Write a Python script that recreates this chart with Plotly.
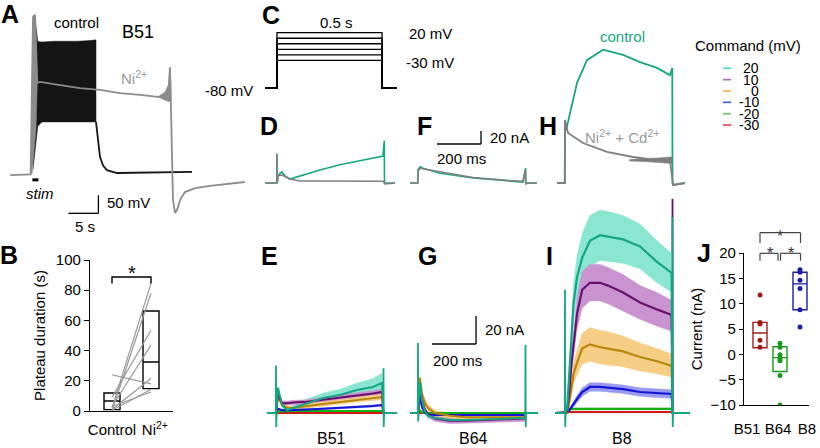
import plotly.graph_objects as go

W, H = 820, 448
FONT = "Liberation Sans, Arial, sans-serif"

# ---------------- A: B51 plateau (time in s, potential in mV) ----------------
a_ctrl_t = [0.5, 0.8, 1.3, 2, 4, 6, 8, 10, 11]
a_ctrl_hi = [379, 375, 305, 304, 306, 305, 306, 308, 310]
a_ctrl_lo = [-50, 4, 70, 82, 82, 82, 83, 82, 82]
a_tail_t = [11.0, 11.4, 11.67, 12.2, 12.83, 14.5, 20, 27]
a_tail_v = [82, 20, -16, -40, -52, -60, -59, -57]
a_ni_t = [-3.3, 0.1, 0.5, 0.85, 1.2, 1.67, 5, 8.33, 11.67, 15, 18.33, 21.67,
          23.0, 23.33, 23.5, 23.83, 24.17, 24.5, 25, 25.83, 27.5, 30, 35.8]
a_ni_v = [-66, -64, 373, 379, 190, 193, 184, 176, 171, 162, 157, 151,
          151, 234, 115, -135, -171, -163, -135, -113, -102, -96, -85]
a_burst_t = [0.12, 0.55, 0.85, 1.22, 1.0, 0.35]
a_burst_v = [-62, 373, 379, 190, 60, -62]
a_osc_t = [21.5, 22.5, 23.2, 23.5]
a_osc_hi = [154, 165, 190, 195]
a_osc_lo = [150, 142, 138, 143]
a_stim = [0.4, 1.4]

# ---------------- B: plateau duration (s) ----------------
b_ctrl = [2, 0, 9, 3, 1, 24, 0.5, 3]
b_ni = [84.5, 78, 53.5, 43.6, 21.5, 18, 14.2, 12.6]
b_q1 = [0.9, 14.8]
b_med = [6.6, 32.5]
b_q3 = [11.9, 66.2]
b_labels = ["Control", "Ni<sup>2+</sup>"]

# ---------------- C: voltage command (ms, mV) ----------------
c_levels = [20, 10, 0, -10, -20, -30]
c_hold = -80
c_t = [-57, 0, 0, 500, 500, 571]

# ---------------- D, F, H: single example currents (ms, nA) ----------------
d_green_t = [-56, -1, 0, 1, 5, 14, 23, 37, 60, 107, 200, 293, 386, 493, 499, 500, 503, 549]
d_green_i = [0, 0, 45, 0, 10, 15, 17, 11, 6, 11, 20, 28, 34, 41.5, 65, -1.5, 0, 0]
d_gray_t = [-56, -1, 0, 1, 5, 23, 60, 107, 200, 300, 400, 493, 500, 503, 549]
d_gray_i = [0, 0, 45, 0, 12, 12.3, 6.2, 3.1, 3, 2.8, 2.8, 2.8, 0, -1.5, 0]

f_t = [-37, -1, 0, 5, 10, 20, 102, 256, 414, 488, 500, 501, 504, 553]
f_green_i = [0, 0, 20, 24, 25, 23, 15, 7.7, 3, 1.5, 23, -2, 0, 0]
f_gray_i = [0, 0, 18, 22, 23, 22, 17, 8.5, 4, 2.5, 20, -2, 0, 0]

h_green_t = [-37, -1, 0, 5, 56, 102, 177, 270, 349, 428, 488, 499, 500, 503, 558]
h_green_i = [0, 0, 95, 81, 154, 189, 205, 197, 186, 177, 166, 177, 0, -3, 0]
h_gray_t = [-37, -1, 0, 14, 84, 195, 316, 428, 488, 500, 503, 558]
h_gray_i = [0, 0, 97, 77, 61.5, 48, 40, 35, 35, 0, -3, 0]
h_noise_t = [300, 400, 450, 488, 498]
h_noise_sd = [1, 2.5, 4, 5, 5]

# ---------------- E, G, I: mean +/- sem currents per command (20 ... -30 mV) ----------------
e_t = [9, 28, 51, 79, 144, 219, 298, 377, 451, 493]
e_mean = [
    [18, 5.7, 2.1, 3.6, 7, 10.7, 12.9, 16.4, 18.6, 21.4],
    [14, 7, 7, 7.5, 8, 9.3, 11, 12.5, 14, 15],
    [11.4, 6, 4, 3.6, 5, 6.4, 8, 9.3, 10.7, 11.4],
    [3, 2, 2, 2, 2.5, 3, 3.6, 4.3, 5, 5.7],
    [1, 1.2, 1.4, 1.4, 1.4, 1.4, 1.4, 1.4, 1.4, 1.4],
    [0, 0, 0, 0, -0.2, -0.2, -0.3, -0.3, -0.3, -0.3],
]
e_sem = [
    [2, 1.5, 1.5, 2, 3, 3.5, 4, 5, 6, 7],
    [1.5, 1.5, 1.5, 1.5, 1.5, 2, 2, 2, 2, 2],
    [1.5, 1.2, 1.2, 1.2, 1.5, 1.5, 1.5, 1.5, 1.8, 2],
    [0.5, 0.5, 0.5, 0.5, 0.6, 0.6, 0.7, 0.7, 0.8, 0.8],
    [0.3, 0.3, 0.3, 0.3, 0.3, 0.3, 0.3, 0.3, 0.3, 0.3],
    [0.3, 0.3, 0.3, 0.3, 0.3, 0.3, 0.3, 0.3, 0.3, 0.3],
]
e_span = [-42, 563]
e_on, e_off = [34, -10], [32, -10]

g_t = [9, 19, 33, 47, 79, 149, 220, 288, 380, 474, 495]
g_mean = [
    [22, 9, 1, -2, -3.6, -5, -5, -4.6, -4, -3.6, -3.6],
    [20, 9, 2, -1, -4, -5.5, -5.5, -5, -4.5, -4, -4],
    [25, 13, 7, 3.6, 0, -2, -3, -3, -3, -3, -3],
    [12, 4, 0, -1, -1.5, -1.5, -1.5, -1.5, -1.5, -1.5, -1.5],
    [2, 0.5, 0, 0, 0, 0, 0, 0, 0, 0, 0],
    [0.5, 0, 0, 0, 0, 0.3, 0.3, 0.3, 0.3, 0.3, 0.3],
]
g_sem = [
    [3, 2.5, 2, 2, 2, 2, 2, 2, 2, 2, 2],
    [2.5, 2, 2, 2, 2, 2, 2, 2, 2, 2, 2],
    [3, 3, 2.5, 2.5, 2, 1.5, 1.5, 1.5, 1.5, 1.5, 1.5],
    [1, 1, 0.8, 0.6, 0.6, 0.6, 0.6, 0.6, 0.6, 0.6, 0.6],
    [0.3, 0.3, 0.3, 0.3, 0.3, 0.3, 0.3, 0.3, 0.3, 0.3, 0.3],
    [0.3, 0.3, 0.3, 0.3, 0.3, 0.3, 0.3, 0.3, 0.3, 0.3, 0.3],
]
g_span = [-37, 558]
g_on, g_off = [50, -6], [48.6, -10]

i_t = [10, 20, 30, 40, 56, 80, 116, 163, 200, 270, 349, 428, 488, 496]
i_mean = [
    [3, 28, 56, 79, 97, 111, 123, 127, 126, 124, 119, 108, 101, 100],
    [2, 15, 35, 50, 71, 88, 93, 93, 91, 86, 79, 74, 70, 70],
    [1, 8, 18, 28, 36, 46, 49, 47, 46, 44, 40, 37, 34, 34],
    [0.5, 2, 4, 6, 10, 15, 18.6, 18.6, 18, 17, 15, 14, 13.6, 13.6],
    [1, 2.5, 3, 3, 3, 3, 3, 3, 3, 3, 3, 3, 3, 3],
    [0.5, 0.7, 0.7, 0.7, 0.7, 0.7, 0.7, 0.7, 0.7, 0.7, 0.7, 0.7, 0.7, 0.7],
]
i_sem = [
    [2, 6, 10, 13, 15, 17, 18, 18, 18, 17, 16, 15, 14, 14],
    [1, 4, 7, 9, 11, 13, 13, 13, 13, 13, 12, 12, 11, 11],
    [1, 3, 5, 7, 9, 11, 12, 12, 12, 11, 10, 9, 8, 8],
    [0.5, 1, 1.5, 2, 2.5, 3, 3, 3, 3, 3, 3, 3, 3, 3],
    [0.5, 0.5, 0.5, 0.5, 0.5, 0.5, 0.5, 0.5, 0.5, 0.5, 0.5, 0.5, 0.5, 0.5],
    [0.5, 0.5, 0.5, 0.5, 0.5, 0.5, 0.5, 0.5, 0.5, 0.5, 0.5, 0.5, 0.5, 0.5],
]
i_span = [-46, 581]
i_on, i_off = [88, -10], [140, -10]
i_off_10 = 153

# ---------------- J: current at +20 mV (nA) ----------------
j_cells = ["B51", "B64", "B8"]
j_x = [1, 2, 3]
j_b51 = [11.7, 6.3, 6.0, 2.8, 1.4]
j_b64 = [2.2, 1.4, -0.1, -0.8, -1.25, -4.2, -10]
j_b8 = [16.7, 16.2, 14.6, 13.0, 8.8, 5.4]
j_q1 = [1.3, -3.4, 8.8]
j_med = [4.2, -0.65, 13.9]
j_q3 = [6.3, 1.5, 16.2]

cmd_labels = ["20", "10", "0", "-10", "-20", "-30"]

# ---------------- styles ----------------
cmd_line = ["#15a683", "#6a0f6e", "#b8860b", "#1515d6", "#12b012", "#d11a1a"]
cmd_band = ["#8ae6d0", "#c893cf", "#f6cd85", "#9a9af2", "#a4e4a4", "#f2a4a4"]
cmd_key = ["#47d2b2", "#a468b4", "#f2b54c", "#3b58d6", "#5fc45f", "#e6383e"]
j_colors = ["#a01c1c", "#1a9a1a", "#1c1caa"]
GREEN = "#17a67f"
GRAY = "#7f7f7f"
LIGHT = "#9a9a9a"

fig = go.Figure()


def ref(n):
    s = "" if n == 1 else str(n)
    return "x" + s, "y" + s


def axes(n, box, anchor, scale):
    """Hidden axes whose data units map onto a pixel box."""
    l, t, r, b = box
    px, py, x0, y0 = anchor
    sx, sy = scale
    xa, ya = ref(n)
    fig.update_layout(**{
        "xaxis" + xa[1:]: dict(domain=[l / W, r / W], range=[x0 + (l - px) / sx, x0 + (r - px) / sx],
                               visible=False, anchor=ya, automargin=False),
        "yaxis" + ya[1:]: dict(domain=[1 - b / H, 1 - t / H], range=[y0 + (py - b) / sy, y0 + (py - t) / sy],
                               visible=False, anchor=xa, automargin=False),
    })


def line(n, x, y, color, width=1.5):
    xa, ya = ref(n)
    fig.add_trace(go.Scatter(x=x, y=y, mode="lines", line=dict(color=color, width=width),
                             xaxis=xa, yaxis=ya, hoverinfo="skip", showlegend=False))


def area(n, x, y, color):
    xa, ya = ref(n)
    fig.add_trace(go.Scatter(x=x, y=y, mode="lines", fill="toself", fillcolor=color,
                             line=dict(color=color, width=0.5), xaxis=xa, yaxis=ya,
                             hoverinfo="skip", showlegend=False))


def band(n, t, lo, hi, color):
    area(n, list(t) + list(t)[::-1], list(hi) + list(lo)[::-1], color)


def P(px, py):
    return px / W, 1 - py / H


annotations = []
shapes = []


def txt(px, py, s, size=15, color="black", bold=False, xanchor="center"):
    x, y = P(px, py)
    if bold:
        s = "<b>" + s + "</b>"
    annotations.append(dict(x=x, y=y, xref="paper", yref="paper", text=s, showarrow=False,
                            xanchor=xanchor, yanchor="middle",
                            font=dict(family=FONT, size=size, color=color)))


def seg(px0, py0, px1, py1, color="black", width=1.3):
    x0, y0 = P(px0, py0)
    x1, y1 = P(px1, py1)
    shapes.append(dict(type="line", xref="paper", yref="paper", x0=x0, y0=y0, x1=x1, y1=y1,
                       line=dict(color=color, width=width)))


def dseg(n, x0, y0, x1, y1, width=1.3):
    xa, ya = ref(n)
    shapes.append(dict(type="line", xref=xa, yref=ya, x0=x0, y0=y0, x1=x1, y1=y1,
                       line=dict(color="black", width=width)))


# ---------------- panel A ----------------
axes(1, (0, 0, 250, 240), (30, 173, 0, -60), (6, 0.36))
band(1, a_ctrl_t, a_ctrl_lo, a_ctrl_hi, "#151515")
line(1, a_tail_t, a_tail_v, "#151515", 1.8)
area(1, a_burst_t, a_burst_v, "#8c8c8c")
band(1, a_osc_t, a_osc_lo, a_osc_hi, "#8c8c8c")
line(1, a_ni_t, a_ni_v, "#8c8c8c", 1.8)
dseg(1, a_stim[0], -79, a_stim[1], -79, width=3)
dseg(1, 6.4, -172, 11.4, -172)
dseg(1, 11.4, -172, 11.4, -122)

# ---------------- panel B ----------------
fig.update_layout(
    xaxis2=dict(domain=[90 / W, 173 / W], range=[-0.564, 1.564], anchor="y2", showgrid=False,
                zeroline=False, showline=True, linecolor="black", linewidth=1.2, automargin=False,
                tickvals=[0, 1.1], ticktext=b_labels, tickangle=0, ticks="outside", ticklen=5,
                tickcolor="rgba(0,0,0,0)", tickfont=dict(family=FONT, size=15, color="black")),
    yaxis2=dict(domain=[1 - 411 / H, 1 - 260 / H], range=[0, 100], anchor="x2", showgrid=False,
                zeroline=False, showline=True, linecolor="black", linewidth=1.2, automargin=False,
                tickvals=[0, 20, 40, 60, 80, 100], ticks="outside", ticklen=5, tickcolor="black",
                tickfont=dict(family=FONT, size=15, color="black"),
                title=dict(text="Plateau duration (s)", font=dict(family=FONT, size=15, color="black"),
                           standoff=6)),
)
for k in range(2):
    fig.add_trace(go.Box(x=[k], q1=[b_q1[k]], median=[b_med[k]], q3=[b_q3[k]],
                         lowerfence=[b_q1[k]], upperfence=[b_q3[k]], width=0.41,
                         fillcolor="rgba(255,255,255,0)", line=dict(color="black", width=1.4),
                         boxpoints=False, xaxis="x2", yaxis="y2", hoverinfo="skip", showlegend=False))
pair_x, pair_y = [], []
for c, n in zip(b_ctrl, b_ni):
    pair_x += [0, 1, None]
    pair_y += [c, n, None]
line(2, pair_x, pair_y, LIGHT, 1.2)
line(2, [0, 0, 1, 1], [84.5, 88.7, 88.7, 84.5], "black", 1.4)
annotations.append(dict(x=0.5, y=91.5, xref="x2", yref="y2", text="*", showarrow=False,
                        xanchor="center", yanchor="middle",
                        font=dict(family=FONT, size=20, color="black")))

# ---------------- panel C ----------------
axes(3, (195, 15, 460, 100), (277, 88, 0, -80), (0.21, 0.553))
for v in c_levels:
    line(3, c_t, [c_hold, c_hold, v, v, c_hold, c_hold], "black", 1.3)

# ---------------- panels D, F, H ----------------
top_scale = (0.215, 0.65)
axes(4, (258, 20, 402, 200), (277, 183, 0, 0), top_scale)
axes(5, (402, 20, 545, 200), (418, 183, 0, 0), top_scale)
axes(6, (548, 20, 692, 200), (565, 183, 0, 0), top_scale)
line(4, d_green_t, d_green_i, GREEN, 1.6)
line(4, d_gray_t, d_gray_i, GRAY, 1.5)
line(5, f_t, f_green_i, GREEN, 1.6)
line(5, f_t, f_gray_i, GRAY, 1.6)
line(6, h_green_t, h_green_i, GREEN, 1.8)
line(6, h_gray_t, h_gray_i, GRAY, 1.8)
h_noise_mid = [35 for _ in h_noise_t]
band(6, h_noise_t, [m - s for m, s in zip(h_noise_mid, h_noise_sd)],
     [m + s for m, s in zip(h_noise_mid, h_noise_sd)], GRAY)
# 20 nA / 200 ms scale bar (top row)
dseg(5, 88, 60, 293, 60)
dseg(5, 293, 60, 293, 80)

# ---------------- panels E, G, I ----------------
bot_scale = (0.215, 1.4)
axes(7, (258, 170, 402, 448), (276, 413, 0, 0), bot_scale)
axes(8, (402, 170, 545, 448), (418, 413, 0, 0), bot_scale)
axes(9, (548, 170, 692, 448), (565, 413, 0, 0), bot_scale)


def sweeps(n, t, means, sems, span, on, off, width):
    for k in range(6):
        lo = [m - s for m, s in zip(means[k], sems[k])]
        hi = [m + s for m, s in zip(means[k], sems[k])]
        band(n, t, lo, hi, cmd_band[k])
    for k in reversed(range(6)):
        line(n, [span[0], 0] + t + [500, span[1]], [0, 0] + means[k] + [0, 0], cmd_line[k], width)
    line(n, [-1, 0, 1, 3, None, 499, 500, 501, 503],
         [0, on[0], on[1], 0, None, 0, off[0], off[1], 0], cmd_line[0], 1.8)


sweeps(7, e_t, e_mean, e_sem, e_span, e_on, e_off, 2)
sweeps(8, g_t, g_mean, g_sem, g_span, g_on, g_off, 2)
line(9, [499.5, 500, 500.5], [0, i_off_10, 0], cmd_line[1], 1.8)
sweeps(9, i_t, i_mean, i_sem, i_span, i_on, i_off, 2.2)
dseg(8, 65, 49.3, 270, 49.3)
dseg(8, 270, 49.3, 270, 69.3)

# ---------------- panel J ----------------
fig.update_layout(
    xaxis10=dict(domain=[744 / W, 809 / W], range=[0.2, 3.45], anchor="y10", showgrid=False,
                 zeroline=False, showline=True, linecolor="black", linewidth=1.2, automargin=False,
                 tickvals=[0.35, 1.9, 3.35], ticktext=j_cells, tickangle=0, ticks="outside", ticklen=10,
                 tickcolor="rgba(0,0,0,0)", tickfont=dict(family=FONT, size=15, color="black")),
    yaxis10=dict(domain=[1 - 405 / H, 1 - 253 / H], range=[-10, 20], anchor="x10", showgrid=False,
                 zeroline=False, showline=True, linecolor="black", linewidth=1.2, automargin=False,
                 tickvals=[-10, -5, 0, 5, 10, 15, 20], ticks="outside", ticklen=4, tickcolor="black",
                 tickfont=dict(family=FONT, size=15, color="black"),
                 title=dict(text="Current (nA)", font=dict(family=FONT, size=15, color="black"),
                            standoff=4)),
)
for k, pts in enumerate([j_b51, j_b64, j_b8]):
    fig.add_trace(go.Box(x=[j_x[k]], q1=[j_q1[k]], median=[j_med[k]], q3=[j_q3[k]],
                         lowerfence=[j_q1[k]], upperfence=[j_q3[k]], width=0.7,
                         fillcolor="rgba(255,255,255,0)", line=dict(color=j_colors[k], width=1.4),
                         boxpoints=False, xaxis="x10", yaxis="y10", hoverinfo="skip", showlegend=False))
    fig.add_trace(go.Scatter(x=[j_x[k]] * len(pts), y=pts, mode="markers",
                             marker=dict(color=j_colors[k], size=5), xaxis="x10", yaxis="y10",
                             hoverinfo="skip", showlegend=False))
# significance brackets
for a, b, y0, y1 in [(760, 800.5, 243, 232.7), (760, 778, 260.7, 253.3), (780.5, 800.5, 260.7, 253.3)]:
    seg(a, y0, a, y1, "#444", 1.2)
    seg(a, y1, b, y1, "#444", 1.2)
    seg(b, y1, b, y0, "#444", 1.2)
for px, py in [(780, 236), (769.5, 253), (790.5, 253)]:
    txt(px, py, "*", 16, "#333")

# ---------------- text ----------------
for s, px, py in [("A", 10, 14), ("B", 9, 255), ("C", 271, 15), ("D", 269, 126), ("F", 424, 126),
                  ("H", 548, 126), ("E", 269, 256), ("G", 427, 256), ("I", 549, 256), ("J", 704, 253)]:
    txt(px, py, s, 25, bold=True)

txt(76, 23, "control", 15)
txt(138, 32, "B51", 18)
txt(134, 78, "Ni<sup>2+</sup>", 15, "#999999")
txt(40, 193, "<i>stim</i>", 15)
txt(128, 202, "50 mV", 15)
txt(85, 226, "5 s", 15)

txt(336, 23, "0.5 s", 15)
txt(430, 34, "20 mV", 15)
txt(430, 62, "-30 mV", 15)
txt(229, 90, "-80 mV", 15)

txt(488, 137, "20 nA", 15, xanchor="left")
txt(461, 158, "200 ms", 15)
txt(483, 329, "20 nA", 15, xanchor="left")
txt(457, 360, "200 ms", 15)
txt(622, 37, "control", 15, GREEN)
txt(622, 136, "Ni<sup>2+</sup> + Cd<sup>2+</sup>", 15, LIGHT)

txt(331, 438, "B51", 16)
txt(474, 438, "B64", 16)
txt(622, 438, "B8", 16)

# command legend
txt(748, 45, "Command (mV)", 15)
for k, lab in enumerate(cmd_labels):
    py = 68.3 + 11.35 * k
    seg(723, py, 731, py, cmd_key[k], 1.6)
    txt(761, py, lab, 14, xanchor="right")

fig.update_layout(
    template="none",
    width=W, height=H, margin=dict(l=0, r=0, t=0, b=0, autoexpand=False),
    paper_bgcolor="white", plot_bgcolor="rgba(0,0,0,0)",
    showlegend=False, annotations=annotations, shapes=shapes,
    font=dict(family=FONT, color="black"),
)

# the page body has a default 8px margin; pin the figure to the window corner
fig.write_html("out.html", config={"displayModeBar": False},
               post_script="document.body.style.margin = '0';")
